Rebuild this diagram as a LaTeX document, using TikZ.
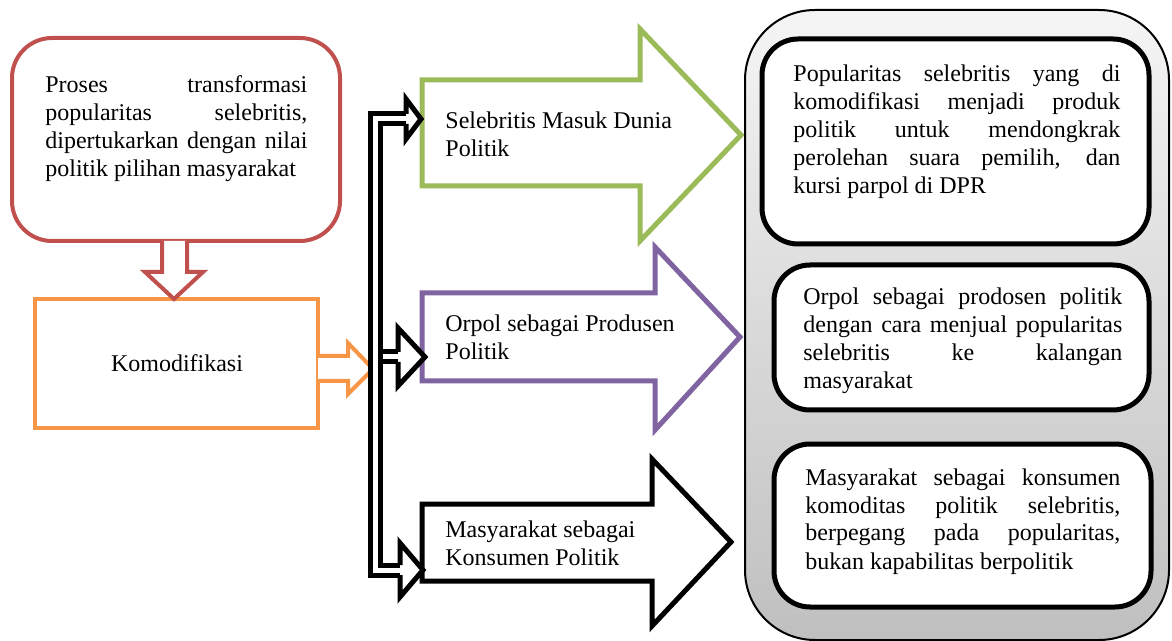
\documentclass[tikz,border=0pt]{standalone}
\usepackage{fontspec}
\setmainfont{Liberation Serif}

\definecolor{boxred}{HTML}{C0504D}
\definecolor{boxorange}{HTML}{F79646}
\definecolor{boxgreen}{HTML}{9BBB59}
\definecolor{boxpurple}{HTML}{8064A2}

\newcommand{\jline}[1]{\makebox[\hsize][s]{\strut #1}}
\newcommand{\plainsp}{\spaceskip=0pt\xspaceskip=0pt}
% small hollow head at the end of the double line: head x, mid y, half height, tip x
\newcommand{\smallhead}[4]{%
  \fill[white] (#1,{#2-#3}) -- (#4,#2) -- (#1,{#2+#3}) -- cycle;
  \draw[headline] (#1,{#2-5}) -- (#1,{#2-#3}) -- (#4,#2) -- (#1,{#2+#3}) -- (#1,{#2+5});}

\tikzset{
  txt/.style={inner sep=0pt, anchor=north west, align=left, font=\fontsize{12}{14}\selectfont},
  procbox/.style={line width=2pt, fill=white},
  wbox/.style={line width=2.5pt, fill=white, rounded corners=18pt},
  bigarrow/.style={line width=2.5pt, fill=white, line join=miter},
  headline/.style={line width=2.5pt, line join=miter},
  wire/.style={line width=2.5pt, double=white, double distance=2.5pt, line join=miter},
}

\begin{document}
\begin{tikzpicture}[x=0.5pt,y=-0.5pt]
  \useasboundingbox (0,0) rectangle (1172,641);

  % grey panel on the right
  \draw[line width=1pt, rounded corners=35pt, top color=gray!8, bottom color=gray!50] (745,10) rectangle (1169,640);

  % big hollow arrows
  \draw[bigarrow, draw=boxgreen] (422,80) -- (640,80) -- (640,29) -- (741,135) -- (640,241) -- (640,186) -- (422,186) -- cycle;
  \draw[bigarrow, draw=boxpurple] (422,293) -- (655,293) -- (655,247) -- (740,337) -- (655,430) -- (655,381) -- (422,381) -- cycle;
  \draw[bigarrow, draw=black] (422,504) -- (652,504) -- (652,459) -- (731,542) -- (652,626) -- (652,581) -- (422,581) -- cycle;
  \node[txt] (masuk) at (445,109) {\plainsp\strut Selebritis Masuk Dunia\\Politik};
  \node[txt] (produsen) at (445,312) {\plainsp\strut Orpol sebagai Produsen\\Politik};
  \node[txt] (konsumen) at (445,517) {\plainsp\strut Masyarakat sebagai\\Konsumen Politik};

  % boxes inside the grey panel
  \draw[wbox] (762,39) rectangle (1149,244);
  \draw[wbox] (774,265) rectangle (1149,410);
  \draw[wbox] (774,444) rectangle (1151,607);
  \node[txt, text width=163.5pt] (hasil) at (793,62) {\plainsp
    \jline{Popularitas selebritis yang di}\\
    \jline{komodifikasi menjadi produk}\\ \jline{politik untuk mendongkrak}\\
    \jline{perolehan suara pemilih, dan}\\ kursi parpol di DPR};
  \node[txt, text width=159.5pt] (orpol) at (803,285) {\plainsp
    \jline{Orpol sebagai prodosen politik}\\
    \jline{dengan cara menjual popularitas}\\ \jline{selebritis ke kalangan}\\ masyarakat};
  \node[txt, text width=157.5pt] (masy) at (805,465) {\plainsp
    \jline{Masyarakat sebagai konsumen}\\
    \jline{komoditas politik selebritis,}\\ \jline{berpegang pada popularitas,}\\ bukan kapabilitas berpolitik};

  % left side
  \draw[procbox, draw=boxred, rounded corners=20pt] (12,38) rectangle (340,241);
  \node[txt, text width=131pt] (proses) at (45,73) {\plainsp
    \jline{Proses transformasi}\\
    \jline{popularitas selebritis,}\\ \jline{dipertukarkan dengan nilai}\\ politik pilihan masyarakat};
  \draw[procbox, draw=boxorange] (35,299) rectangle (318,428);
  \node[font=\fontsize{12}{14}\selectfont] (komodifikasi) at (177,363) {Komodifikasi};

  \draw[procbox, draw=boxred, line join=miter] (162,241) -- (162,272) -- (145,272) -- (174,299) -- (203,272) -- (187,272) -- (187,241);
  \draw[procbox, draw=boxorange, line join=miter] (318,356) -- (348,356) -- (348,343) -- (373,369) -- (348,394) -- (348,381) -- (318,381);

  % double line bracket
  \draw[wire] (406,119) -- (375,119) -- (375,570) -- (400,570);
  \draw[wire] (382.5,357) -- (398,357);
  \smallhead{406}{119}{20}{421}
  \smallhead{398}{357}{29}{425}
  \smallhead{400}{570}{27}{423}
\end{tikzpicture}
\end{document}
